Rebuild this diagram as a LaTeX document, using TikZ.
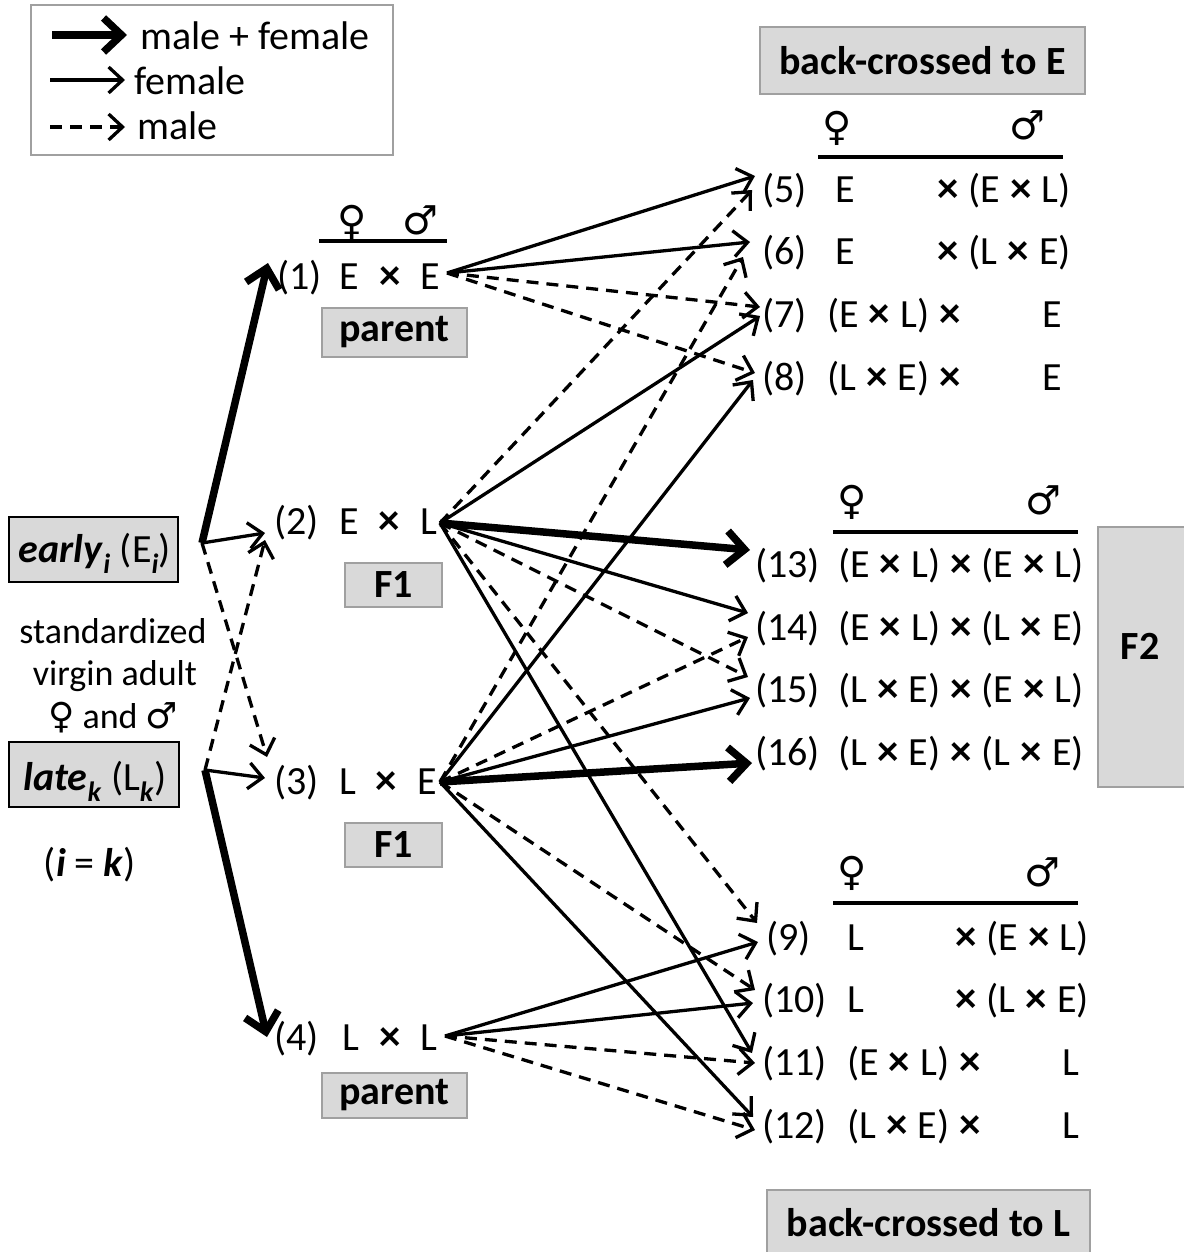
\documentclass[tikz,border=0pt]{standalone}
\usepackage{fontspec}
\setmainfont{Carlito}
\newfontfamily\symf{DejaVu Sans}
\usetikzlibrary{arrows.meta}
\definecolor{boxgray}{HTML}{D9D9D9}
\definecolor{edgegray}{HTML}{A0A0A0}
\newcommand{\X}{{\fontsize{43}{46}\selectfont\bfseries\hspace{1pt}×\hspace{1pt}}}
\begin{document}
\begin{tikzpicture}[x=1pt,y=-1pt,
  every node/.style={font=\fontsize{40}{46}\selectfont, inner sep=0pt},
  fem/.style={-{Straight Barb[length=14pt,width=26pt]}, line width=3.3pt},
  mal/.style={fem, dash pattern=on 12pt off 8pt},
  both/.style={-{Straight Barb[length=18pt,width=34pt]}, line width=7.5pt},
  graybox/.style={draw=edgegray, fill=boxgray, line width=2pt, font=\fontsize{40}{46}\selectfont\bfseries},
  blackbox/.style={draw=black, fill=boxgray, line width=2pt},
  sexsym/.style={font=\fontsize{40}{44}\selectfont\symf},
  rule/.style={line width=4pt},
  small/.style={font=\fontsize{36}{42}\selectfont}]
\useasboundingbox (0,0) rectangle (1183,1252);

% legend
\node[draw=edgegray, line width=2pt, minimum width=362pt, minimum height=150pt, anchor=north west] (legend) at (30,4) {};
\coordinate (la1) at (52,35); \coordinate (lb1) at (127,35);
\coordinate (la2) at (50,80); \coordinate (lb2) at (125,80);
\coordinate (la3) at (50,127); \coordinate (lb3) at (125,127);
\draw[both] (la1) -- (lb1);
\draw[fem] (la2) -- (lb2);
\draw[mal] (la3) -- (lb3);
\node[anchor=base west] (lt1) at (140,50) {male + female};
\node[anchor=base west] (lt2) at (134,95) {female};
\node[anchor=base west] (lt3) at (137,140) {male};

% left column
\node[blackbox, minimum width=169pt, minimum height=65pt] (early) at (93.5,549.5) {};
\node[anchor=base] (earlyt) at (95,562) {\textbf{\textit{early}}\textsubscript{\textbf{\textit{i}}} (E\textsubscript{\textbf{\textit{i}}})};
\node[blackbox, minimum width=170pt, minimum height=65pt] (late) at (94,774.5) {};
\node[anchor=base] (latet) at (95,790) {\textbf{\textit{late}}\textsubscript{\textbf{\textit{k}}} (L\textsubscript{\textbf{\textit{k}}})};
\node[anchor=base, small] (std1) at (113,643) {standardized};
\node[anchor=base, small] (std2) at (115,685) {virgin adult};
\node[anchor=base, small] (std3) at (113,728) {{\symf\fontsize{36}{40}\selectfont ♀} and {\symf\fontsize{36}{40}\selectfont ♂}};
\node[anchor=base] (ik) at (90,876) {(\textbf{\textit{i}} = \textbf{\textit{k}})};

% parents and F1
\node[anchor=base west] (n1) at (277,289) {(1)};
\node[anchor=base] (x1) at (390,289) {E\hspace{10pt} \X{} \hspace{10pt}E};
\node[anchor=base west] (n2) at (274,534) {(2)};
\node[anchor=base] (x2) at (388,534) {E\hspace{10pt} \X{} \hspace{10pt}L};
\node[anchor=base west] (n3) at (274,794) {(3)};
\node[anchor=base] (x3) at (388,794) {L\hspace{10pt} \X{} \hspace{10pt}E};
\node[anchor=base west] (n4) at (274,1050) {(4)};
\node[anchor=base] (x4) at (390,1050) {L\hspace{10pt} \X{} \hspace{10pt}L};
\node[sexsym] (fp1) at (352,222) {♀};
\node[sexsym] (mp1) at (420,220) {♂};
\draw[rule] (319,241) -- (447,241);
\node[graybox, minimum width=145pt, minimum height=49pt] (par1) at (394.5,332.5) {parent};
\node[graybox, minimum width=97pt, minimum height=44pt] (f1a) at (393.5,585) {F1};
\node[graybox, minimum width=97pt, minimum height=44pt] (f1b) at (393.5,845) {F1};
\node[graybox, minimum width=145pt, minimum height=45pt] (par4) at (394.5,1095.5) {parent};

% right top
\node[graybox, minimum width=325pt, minimum height=67pt] (bce) at (922.5,60.5) {back-crossed to E};
\node[sexsym] (ft) at (837,128) {♀};
\node[sexsym] (mt) at (1027,125) {♂};
\draw[rule] (818,157) -- (1063,157);
\node[anchor=base west] (n5) at (762,202) {(5)};
\node[anchor=base west] (a5) at (835,202) {E};
\node[anchor=base east] (b5) at (1071,202) {\X{} (E \X{} L)};
\node[anchor=base west] (n6) at (762,264) {(6)};
\node[anchor=base west] (a6) at (835,264) {E};
\node[anchor=base east] (b6) at (1071,264) {\X{} (L \X{} E)};
\node[anchor=base west] (n7) at (762,327) {(7)};
\node[anchor=base west] (a7) at (827,327) {(E \X{} L) \X};
\node[anchor=base east] (b7) at (1062,327) {E};
\node[anchor=base west] (n8) at (762,390) {(8)};
\node[anchor=base west] (a8) at (827,390) {(L \X{} E) \X};
\node[anchor=base east] (b8) at (1062,390) {E};

% F2
\node[sexsym] (ff) at (852,502) {♀};
\node[sexsym] (mf) at (1043,500) {♂};
\draw[rule] (833,532) -- (1078,532);
\node[anchor=base west] (n13) at (755,577) {(13)};
\node[anchor=base west] (a13) at (838,577) {(E \X{} L) \X{} (E \X{} L)};
\node[anchor=base west] (n14) at (755,640) {(14)};
\node[anchor=base west] (a14) at (838,640) {(E \X{} L) \X{} (L \X{} E)};
\node[anchor=base west] (n15) at (755,702) {(15)};
\node[anchor=base west] (a15) at (838,702) {(L \X{} E) \X{} (E \X{} L)};
\node[anchor=base west] (n16) at (755,765) {(16)};
\node[anchor=base west] (a16) at (838,765) {(L \X{} E) \X{} (L \X{} E)};
\node[graybox, minimum width=110pt, minimum height=260pt, anchor=north west] (f2box) at (1097,526) {};
\node[font=\fontsize{40}{46}\selectfont\bfseries] (f2) at (1140,646) {F2};

% right bottom
\node[sexsym] (fb) at (852,873) {♀};
\node[sexsym] (mb) at (1042,872) {♂};
\draw[rule] (833,903) -- (1078,903);
\node[anchor=base west] (n9) at (766,950) {(9)};
\node[anchor=base west] (a9) at (847,950) {L};
\node[anchor=base east] (b9) at (1089,950) {\X{} (E \X{} L)};
\node[anchor=base west] (n10) at (762,1012) {(10)};
\node[anchor=base west] (a10) at (847,1012) {L};
\node[anchor=base east] (b10) at (1089,1012) {\X{} (L \X{} E)};
\node[anchor=base west] (n11) at (762,1075) {(11)};
\node[anchor=base west] (a11) at (847,1075) {(E \X{} L) \X};
\node[anchor=base east] (b11) at (1080,1075) {L};
\node[anchor=base west] (n12) at (762,1138) {(12)};
\node[anchor=base west] (a12) at (847,1138) {(L \X{} E) \X};
\node[anchor=base east] (b12) at (1080,1138) {L};
\node[graybox, minimum width=323pt, minimum height=66pt] (bcl) at (928.5,1223) {back-crossed to L};

% origins
\coordinate (eo) at (202,543);
\coordinate (lo) at (205,770);
\coordinate (c1) at (447,273);
\coordinate (c2) at (440,523);
\coordinate (c3) at (440,782);
\coordinate (c4) at (445,1036);

% tips
\coordinate (t1) at (268,263);
\coordinate (t2e) at (265,533);
\coordinate (t2l) at (265,540);
\coordinate (t3e) at (267,757);
\coordinate (t3l) at (265,778);
\coordinate (t4) at (267,1037);

\coordinate (t5a) at (755,176);  \coordinate (t5b) at (752,190);
\coordinate (t6a) at (750,242);  \coordinate (t6b) at (743,257);
\coordinate (t7a) at (760,307);  \coordinate (t7b) at (760,316);
\coordinate (t8a) at (755,373);  \coordinate (t8b) at (753,380);
\coordinate (t13) at (750,550);
\coordinate (t14a) at (748,613); \coordinate (t14b) at (748,637);
\coordinate (t15a) at (748,677); \coordinate (t15b) at (750,698);
\coordinate (t16) at (752,763);
\coordinate (t9a) at (757,923);  \coordinate (t9b) at (758,942);
\coordinate (t10a) at (755,990); \coordinate (t10b) at (753,1003);
\coordinate (t11a) at (752,1053); \coordinate (t11b) at (755,1063);
\coordinate (t12a) at (753,1117); \coordinate (t12b) at (755,1130);

% left arrows
\draw[both] (eo) -- (t1);
\draw[fem] (eo) -- (t2e);
\draw[mal] (eo) -- (t3e);
\draw[mal] (lo) -- (t2l);
\draw[fem] (lo) -- (t3l);
\draw[both] (lo) -- (t4);

% from (1)
\draw[fem] (c1) -- (t5a);
\draw[fem] (c1) -- (t6a);
\draw[mal] (c1) -- (t7a);
\draw[mal] (c1) -- (t8a);
% from (2)
\draw[mal] (c2) -- (t5b);
\draw[fem] (c2) -- (t7b);
\draw[both] (c2) -- (t13);
\draw[fem] (c2) -- (t14a);
\draw[mal] (c2) -- (t15a);
\draw[mal] (c2) -- (t9a);
\draw[fem] (c2) -- (t11a);
% from (3)
\draw[mal] (c3) -- (t6b);
\draw[fem] (c3) -- (t8b);
\draw[mal] (c3) -- (t14b);
\draw[fem] (c3) -- (t15b);
\draw[both] (c3) -- (t16);
\draw[mal] (c3) -- (t10a);
\draw[fem] (c3) -- (t12a);
% from (4)
\draw[fem] (c4) -- (t9b);
\draw[fem] (c4) -- (t10b);
\draw[mal] (c4) -- (t11b);
\draw[mal] (c4) -- (t12b);
\end{tikzpicture}
\end{document}
